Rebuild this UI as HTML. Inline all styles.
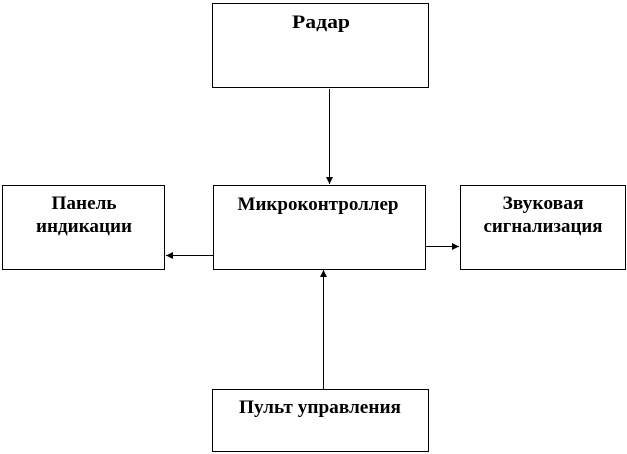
<!DOCTYPE html>
<html><head><meta charset="utf-8"><style>
html,body{margin:0;padding:0;background:#fff;}
svg{display:block}
svg text{font-family:"Liberation Serif","DejaVu Serif","Times New Roman",serif;font-weight:bold;font-size:19px;fill:#000;text-anchor:middle}
</style></head><body>
<svg width="627" height="454" viewBox="0 0 627 454" xmlns="http://www.w3.org/2000/svg">
<defs><marker id="a" viewBox="0 0 10 10" refX="10" refY="5" markerWidth="7" markerHeight="7" orient="auto" markerUnits="userSpaceOnUse"><path d="M0,0 L10,5 L0,10 z" fill="#000"/></marker></defs>
<g fill="none" stroke="#000" stroke-width="1">
<rect x="212.5" y="3.5" width="216" height="84"/>
<rect x="213.5" y="185.5" width="212" height="84"/>
<rect x="2.5" y="185.5" width="162" height="84"/>
<rect x="460.5" y="185.5" width="165" height="84"/>
<rect x="212.5" y="389.5" width="216" height="62"/>
<line x1="329.5" y1="89" x2="329.5" y2="184" marker-end="url(#a)"/>
<line x1="213" y1="255.5" x2="166" y2="255.5" marker-end="url(#a)"/>
<line x1="426" y1="246.5" x2="459" y2="246.5" marker-end="url(#a)"/>
<line x1="323.5" y1="389" x2="323.5" y2="270" marker-end="url(#a)"/>
</g>
<g font-family="Liberation Serif, serif" font-weight="bold" font-size="19" text-anchor="middle">
<text x="321" y="28" textLength="58" lengthAdjust="spacingAndGlyphs">Радар</text>
<text x="318" y="210" textLength="161" lengthAdjust="spacingAndGlyphs">Микроконтроллер</text>
<text x="84" y="209" textLength="65" lengthAdjust="spacingAndGlyphs">Панель</text>
<text x="84" y="232" textLength="96" lengthAdjust="spacingAndGlyphs">индикации</text>
<text x="543" y="209" textLength="81" lengthAdjust="spacingAndGlyphs">Звуковая</text>
<text x="543" y="232" textLength="119" lengthAdjust="spacingAndGlyphs">сигнализация</text>
<text x="320" y="413" textLength="162" lengthAdjust="spacingAndGlyphs">Пульт управления</text>
</g>
</svg>
</body></html>
